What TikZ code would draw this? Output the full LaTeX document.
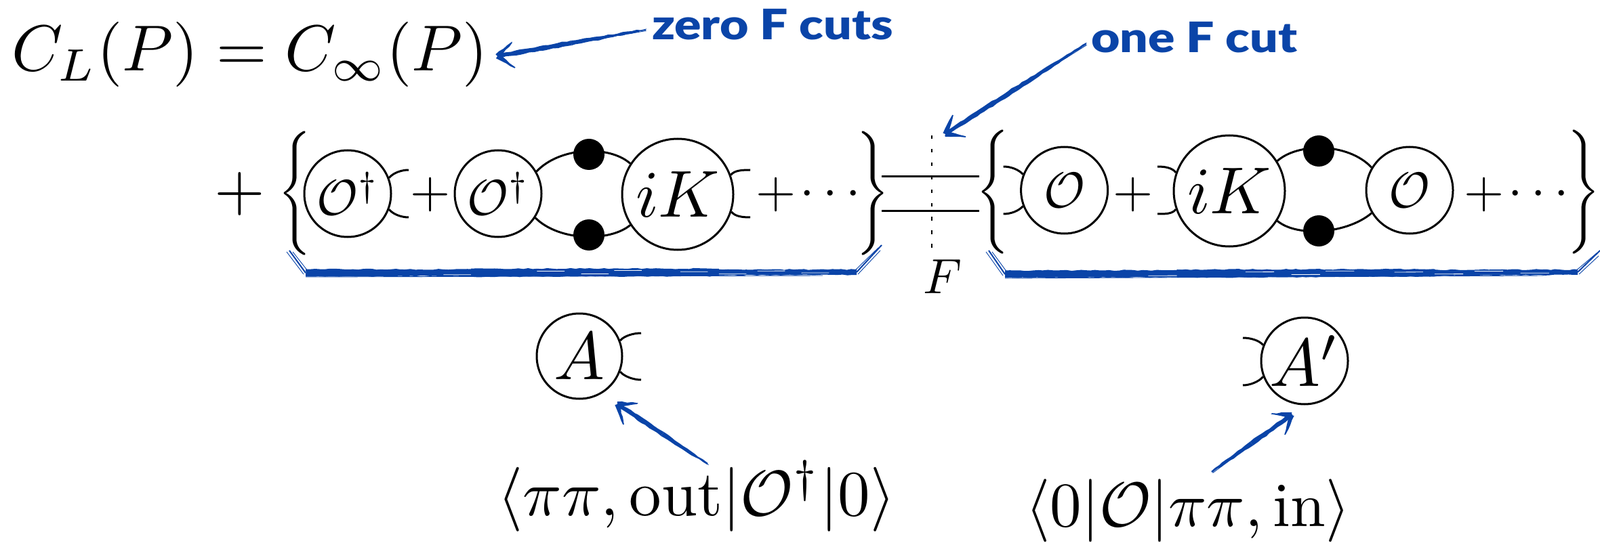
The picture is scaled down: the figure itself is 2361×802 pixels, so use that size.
\documentclass[tikz,border=0pt]{standalone}
\usepackage{graphicx}
\usepackage{amsmath}
\usepackage{fontspec}
\newfontfamily\blufont{Lato Black}
\usetikzlibrary{calc,decorations.pathmorphing}
\definecolor{skblue}{HTML}{0A44A8}
\newcommand{\sm}[2]{\scalebox{#1}{$#2$}}
\newcommand{\bluetext}[1]{\scalebox{1.18}[1]{\blufont\fontsize{62}{62}\selectfont #1}}
\newcommand{\taper}[4]{\fill[skblue,rough] ($(#1)!#3!90:(#2)$) -- ($(#2)!#4!-90:(#1)$) -- ($(#2)!#4!90:(#1)$) -- ($(#1)!#3!-90:(#2)$) -- cycle;}
\newcommand{\scratch}[4]{\draw[skscratch] ($(#1)!#2!(#3)+(0,#4)$) -- ($(#1)!#2+0.05!(#3)+(0,#4)$);}
\newcommand{\skarrow}[4]{%
  \taper{#1}{$(#1)!0.5!(#2)$}{1.2pt}{3.6pt}
  \taper{$(#1)!0.5!(#2)$}{#2}{3.6pt}{3pt}
  \draw[skhair] ([shift={(1.5,1.5)}]#1) -- ([shift={(1,-1)}]#2);
  \taper{#3}{#2}{0.8pt}{3.8pt}
  \taper{#4}{#2}{0.8pt}{3.8pt}
  \draw[skhair] (#3) -- ([shift={(2,1)}]#2);
  \draw[skhair] (#4) -- ([shift={(-1,2)}]#2);
}
\newcommand{\skbracket}[4]{%
  \taper{#2}{#3}{5.5pt}{4pt}
  \taper{$(#2)!0.3!(#3)$}{$(#2)!0.75!(#3)$}{6pt}{5.5pt}
  \scratch{#2}{0.42}{#3}{-2}
  \scratch{#2}{0.50}{#3}{2}
  \scratch{#2}{0.56}{#3}{-3}
  \scratch{#2}{0.68}{#3}{-1}
  \scratch{#2}{0.75}{#3}{2}
  \scratch{#2}{0.82}{#3}{-2}
  \scratch{#2}{0.90}{#3}{1}
  \scratch{#2}{0.25}{#3}{3}
  \draw[skhair] ([shift={(0,6)}]#2) -- ([shift={(-50,5)}]#3);
  \draw[skthin] (#1) -- (#2);
  \draw[skhair] ([shift={(-4,2)}]#1) -- ([shift={(-3,2)}]#2);
  \draw[skhair] ([shift={(5,2)}]#1) -- ([shift={(3,-3)}]#2);
  \draw[skthin] (#3) -- (#4);
  \draw[skhair] ([shift={(-4,-1)}]#3) -- ([shift={(-5,4)}]#4);
  \draw[skhair] ([shift={(2,3)}]#3) -- ([shift={(-2,8)}]#4);
}
\tikzset{
  x=1pt,y=-1pt,
  rough/.style={decorate,decoration={random steps,segment length=7pt,amplitude=0.8pt}},
  blob/.style={circle,draw,line width=3pt,fill=white,inner sep=0pt},
  small/.style={blob,minimum size=128pt},
  large/.style={blob,minimum size=164pt},
  dotnode/.style={circle,fill=black,inner sep=0pt,minimum size=46pt},
  txt/.style={inner sep=0pt,outer sep=0pt},
  leg/.style={line width=3pt},
  rule/.style={line width=3pt},
  blue/.style={txt,text=skblue},
  skhair/.style={draw=skblue,line width=0.9pt},
  skthin/.style={draw=skblue,line width=2pt},
  skscratch/.style={draw=white,line width=0.8pt},
}
\begin{document}
\begin{tikzpicture}
\useasboundingbox (0,0) rectangle (2361,802);
% top line
\node[txt,anchor=west] (eq) at (17,81) {\sm{9.6}{C_L(P)=C_\infty(P)}};
\node[blue,anchor=west] (zero) at (962,36) {\bluetext{zero F cuts}};
\node[blue,anchor=west] (one) at (1610,55) {\bluetext{one F cut}};
% left group
\node[txt] (plusa) at (354,286) {\sm{9.6}{+}};
\node[txt] (bla) at (435,286) {\sm{6.1}{\Bigg\{}};
\node[small] (oa) at (513,286) {\sm{7.4}{\mathcal{O}^\dagger}};
\node[txt] (plusb) at (635,287) {\sm{7.6}{+}};
\node[small] (ob) at (735,286) {\sm{7.4}{\mathcal{O}^\dagger}};
\node[large] (ika) at (1000,287) {\sm{9.8}{iK}};
\node[txt] (plusc) at (1145,287) {\sm{7.6}{+}};
\node[txt] (dotsa) at (1232,287) {\sm{7.7}{\cdots}};
\node[txt] (bra) at (1288,286) {\sm{6.1}{\Bigg\}}};
\coordinate (la1) at (603,251); \coordinate (la2) at (603,321);
\coordinate (la3) at (1107,251); \coordinate (la4) at (1107,321);
\draw[leg] (oa.21) .. controls +(6,-7) and +(-11,0) .. (la1);
\draw[leg] (oa.-21) .. controls +(6,7) and +(-11,0) .. (la2);
\draw[leg] (ika.20) .. controls +(5,-7) and +(-11,0) .. (la3);
\draw[leg] (ika.-18) .. controls +(5,7) and +(-11,0) .. (la4);
\draw[leg] (ob.30) .. controls +(35,-37) and +(-30,-27) .. (ika.147);
\draw[leg] (ob.-33) .. controls +(35,35) and +(-30,25) .. (ika.-147);
\node[dotnode] (da) at (869,228) {};
\node[dotnode] (db) at (869,347) {};
% cut
\coordinate (ta) at (1374.5,200); \coordinate (tb) at (1374.5,369);
\node[txt] (fl) at (1391,409) {\sm{7.3}{F}};
\draw[line width=2pt,dash pattern=on 5.5pt off 14.5pt] (ta) -- (tb);
\coordinate (ra) at (1301,261); \coordinate (rb) at (1445,261);
\coordinate (rc) at (1301,312); \coordinate (rd) at (1445,312);
\draw[rule] (ra) -- (rb);
\draw[rule] (rc) -- (rd);
% right group
\node[txt] (blb) at (1465,283.5) {\sm{6.1}{\Bigg\{}};
\node[small] (oc) at (1570.6,281) {\sm{7.4}{\mathcal{O}}};
\node[txt] (plusd) at (1672,287) {\sm{7.6}{+}};
\node[large] (ikb) at (1814,282) {\sm{9.8}{iK}};
\node[small] (od) at (2080,281) {\sm{7.4}{\mathcal{O}}};
\node[txt] (pluse) at (2190,287) {\sm{7.6}{+}};
\node[txt] (dotsb) at (2277,287) {\sm{7.7}{\cdots}};
\node[txt] (brb) at (2337,283.5) {\sm{6.1}{\Bigg\}}};
\coordinate (lb1) at (1480.6,246); \coordinate (lb2) at (1480.6,316);
\coordinate (lb3) at (1708,246); \coordinate (lb4) at (1708,316);
\draw[leg] (oc.159) .. controls +(-6,-7) and +(11,0) .. (lb1);
\draw[leg] (oc.-159) .. controls +(-6,7) and +(11,0) .. (lb2);
\draw[leg] (ikb.161) .. controls +(-5,-7) and +(11,0) .. (lb3);
\draw[leg] (ikb.-161) .. controls +(-5,7) and +(11,0) .. (lb4);
\draw[leg] (ikb.32) .. controls +(30,-27) and +(-35,-37) .. (od.149);
\draw[leg] (ikb.-32) .. controls +(30,25) and +(-35,30) .. (od.-149);
\node[dotnode] (dc) at (1946,223) {};
\node[dotnode] (dd) at (1946,341) {};
% brackets
\coordinate (ba) at (427,370); \coordinate (bb) at (451,403);
\coordinate (bc) at (1264,402); \coordinate (bd) at (1301,362);
\skbracket{ba}{bb}{bc}{bd}
\coordinate (be) at (1459,370); \coordinate (bf) at (1483,405);
\coordinate (bg) at (2328,402); \coordinate (bh) at (2361,370);
\skbracket{be}{bf}{bg}{bh}
% A nodes
\node[small,minimum size=126pt] (aa) at (855,526) {\sm{10}{A}};
\node[small] (ab) at (1925,533) {\sm{10}{A'}};
\coordinate (lc1) at (946,492); \coordinate (lc2) at (946,561);
\coordinate (lc3) at (1834,499); \coordinate (lc4) at (1834,569);
\draw[leg] (aa.21) .. controls +(6,-7) and +(-11,0) .. (lc1);
\draw[leg] (aa.-21) .. controls +(6,7) and +(-11,0) .. (lc2);
\draw[leg] (ab.159) .. controls +(-6,-7) and +(11,0) .. (lc3);
\draw[leg] (ab.-159) .. controls +(-6,7) and +(11,0) .. (lc4);
% bottom text
\node[txt] (ma) at (1028,733) {\sm{9.5}{\langle\pi\pi,\mathrm{out}|\mathcal{O}^\dagger|0\rangle}};
\node[txt] (mb) at (1753,754) {\sm{9.3}{\langle 0|\mathcal{O}|\pi\pi,\mathrm{in}\rangle}};
% arrows
\coordinate (t1) at (952,44); \coordinate (h1) at (734,83); \coordinate (p1) at (755,63); \coordinate (q1) at (760,100);
\skarrow{t1}{h1}{p1}{q1}
\coordinate (t2) at (1602,65); \coordinate (h2) at (1395,198); \coordinate (p2) at (1406,170); \coordinate (q2) at (1425,202);
\skarrow{t2}{h2}{p2}{q2}
\coordinate (t3) at (1044,685); \coordinate (h3) at (911,597); \coordinate (p3) at (940,596); \coordinate (q3) at (920,627);
\skarrow{t3}{h3}{p3}{q3}
\coordinate (t4) at (1788,697); \coordinate (h4) at (1906,613); \coordinate (p4) at (1877,611); \coordinate (q4) at (1896,642);
\skarrow{t4}{h4}{p4}{q4}
\end{tikzpicture}
\end{document}
